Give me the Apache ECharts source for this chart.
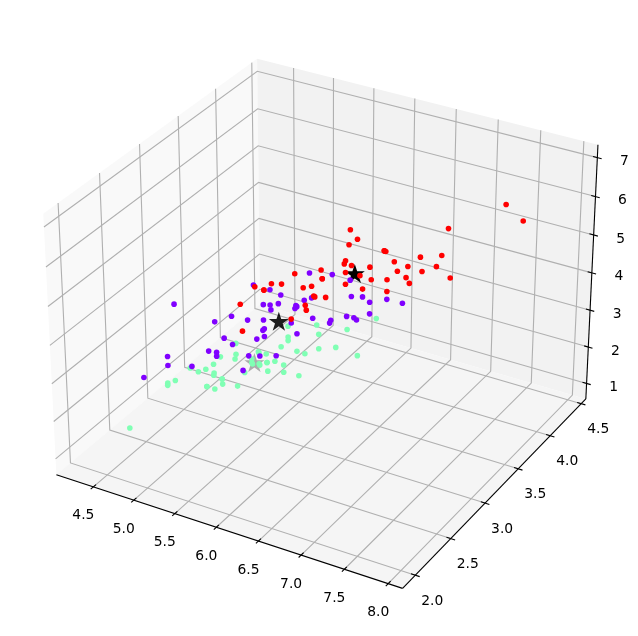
<!DOCTYPE html>
<html><head><meta charset="utf-8">
<style>html,body{margin:0;padding:0;background:#fff}#c{width:638px;height:636px}</style>
<script src="https://cdn.jsdelivr.net/npm/echarts@6/dist/echarts.min.js"></script>
</head><body><div id="c"></div>
<script>
const sepalLength=[5.1,4.9,4.7,4.6,5.0,5.4,4.6,5.0,4.4,4.9,5.4,4.8,4.8,4.3,5.8,5.7,5.4,5.1,5.7,5.1,5.4,5.1,4.6,5.1,4.8,5.0,5.0,5.2,5.2,4.7,4.8,5.4,5.2,5.5,4.9,5.0,5.5,4.9,4.4,5.1,5.0,4.5,4.4,5.0,5.1,4.8,5.1,4.6,5.3,5.0,
7.0,6.4,6.9,5.5,6.5,5.7,6.3,4.9,6.6,5.2,5.0,5.9,6.0,6.1,5.6,6.7,5.6,5.8,6.2,5.6,5.9,6.1,6.3,6.1,6.4,6.6,6.8,6.7,6.0,5.7,5.5,5.5,5.8,6.0,5.4,6.0,6.7,6.3,5.6,5.5,5.5,6.1,5.8,5.0,5.6,5.7,5.7,6.2,5.1,5.7,
6.3,5.8,7.1,6.3,6.5,7.6,4.9,7.3,6.7,7.2,6.5,6.4,6.8,5.7,5.8,6.4,6.5,7.7,7.7,6.0,6.9,5.6,7.7,6.3,6.7,7.2,6.2,6.1,6.4,7.2,7.4,7.9,6.4,6.3,6.1,7.7,6.3,6.4,6.0,6.9,6.7,6.9,5.8,6.8,6.7,6.7,6.3,6.5,6.2,5.9];
const sepalWidth=[3.5,3.0,3.2,3.1,3.6,3.9,3.4,3.4,2.9,3.1,3.7,3.4,3.0,3.0,4.0,4.4,3.9,3.5,3.8,3.8,3.4,3.7,3.6,3.3,3.4,3.0,3.4,3.5,3.4,3.2,3.1,3.4,4.1,4.2,3.1,3.2,3.5,3.6,3.0,3.4,3.5,2.3,3.2,3.5,3.8,3.0,3.8,3.2,3.7,3.3,
3.2,3.2,3.1,2.3,2.8,2.8,3.3,2.4,2.9,2.7,2.0,3.0,2.2,2.9,2.9,3.1,3.0,2.7,2.2,2.5,3.2,2.8,2.5,2.8,2.9,3.0,2.8,3.0,2.9,2.6,2.4,2.4,2.7,2.7,3.0,3.4,3.1,2.3,3.0,2.5,2.6,3.0,2.6,2.3,2.7,3.0,2.9,2.9,2.5,2.8,
3.3,2.7,3.0,2.9,3.0,3.0,2.5,2.9,2.5,3.6,3.2,2.7,3.0,2.5,2.8,3.2,3.0,3.8,2.6,2.2,3.2,2.8,2.8,2.7,3.3,3.2,2.8,3.0,2.8,3.0,2.8,3.8,2.8,2.8,2.6,3.0,3.4,3.1,3.0,3.1,3.1,3.1,2.7,3.2,3.3,3.0,2.5,3.0,3.4,3.0];
const petalLength=[1.4,1.4,1.3,1.5,1.4,1.7,1.4,1.5,1.4,1.5,1.5,1.6,1.4,1.1,1.2,1.5,1.3,1.4,1.7,1.5,1.7,1.5,1.0,1.7,1.9,1.6,1.6,1.5,1.4,1.6,1.6,1.5,1.5,1.4,1.5,1.2,1.3,1.4,1.3,1.5,1.3,1.3,1.3,1.6,1.9,1.4,1.6,1.4,1.5,1.4,
4.7,4.5,4.9,4.0,4.6,4.5,4.7,3.3,4.6,3.9,3.5,4.2,4.0,4.7,3.6,4.4,4.5,4.1,4.5,3.9,4.8,4.0,4.9,4.7,4.3,4.4,4.8,5.0,4.5,3.5,3.8,3.7,3.9,5.1,4.5,4.5,4.7,4.4,4.1,4.0,4.4,4.6,4.0,3.3,4.2,4.2,4.2,4.3,3.0,4.1,
6.0,5.1,5.9,5.6,5.8,6.6,4.5,6.3,5.8,6.1,5.1,5.3,5.5,5.0,5.1,5.3,5.5,6.7,6.9,5.0,5.7,4.9,6.7,4.9,5.7,6.0,4.8,4.9,5.6,5.8,6.1,6.4,5.6,5.1,5.6,6.1,5.6,5.5,4.8,5.4,5.6,5.1,5.1,5.9,5.7,5.2,5.0,5.2,5.4,5.1];
const cluster=[1,1,1,1,1,1,1,1,1,1,1,1,1,1,1,1,1,1,1,1,1,1,1,1,1,1,1,1,1,1,1,1,1,1,1,1,1,1,1,1,1,1,1,1,1,1,1,1,1,1,
0,0,0,0,0,0,0,0,0,0,0,0,0,0,0,0,0,0,0,0,0,0,0,0,0,0,0,0,0,0,0,0,0,0,0,0,0,0,0,0,0,0,0,0,0,0,0,0,0,0,
2,2,2,2,2,2,0,2,2,2,2,2,2,2,2,2,2,2,2,2,2,2,2,2,2,2,2,2,2,2,2,2,2,2,2,2,2,2,2,2,2,2,2,2,2,2,2,2,2,2];
const centreX=[5.916,5.006,6.622];
const centreY=[2.765,3.428,2.984];
const centreZ=[4.265,1.462,5.573];
const clusterColors=['#8000ff','#80ffb4','#ff0000'];
const xTicks=[4.5,5.0,5.5,6.0,6.5,7.0,7.5,8.0];
const yTicks=[2.0,2.5,3.0,3.5,4.0,4.5];
const zTicks=[1,2,3,4,5,6,7];

// matplotlib-style 3D camera (elev 30, azim -60)
const lim=[[4.12,8.08],[1.88,4.52],[0.705,7.195]];
const pane=lim.map(l=>{const d=(l[1]-l[0])/48;return [l[0]-d,l[1]+d];});
const W=638,H=636,K=3197,CX=326.2,CY=310.3;
const norm=v=>Math.hypot(...v);
const cross=(a,b)=>[a[1]*b[2]-a[2]*b[1],a[2]*b[0]-a[0]*b[2],a[0]*b[1]-a[1]*b[0]];
const dot=(a,b)=>a[0]*b[0]+a[1]*b[1]+a[2]*b[2];
let box=[4,4,3];const bs=1.8294640721620434*25/24/norm(box);box=box.map(v=>v*bs);
const el=30*Math.PI/180,az=-60*Math.PI/180,dist=10;
const dir=[Math.cos(el)*Math.cos(az),Math.cos(el)*Math.sin(az),Math.sin(el)];
const R=box.map(v=>v/2),E=R.map((v,i)=>v+dist*dir[i]);
let u=cross([0,0,1],dir);const un=norm(u);u=u.map(v=>v/un);const v3=cross(dir,u);
function proj(x,y,z){
  const p=[(x-lim[0][0])/(lim[0][1]-lim[0][0])*box[0],(y-lim[1][0])/(lim[1][1]-lim[1][0])*box[1],(z-lim[2][0])/(lim[2][1]-lim[2][0])*box[2]];
  const d=p.map((v,i)=>v-E[i]);const w=-dot(dir,d);
  return {x:dot(u,d)/w,y:dot(v3,d)/w,depth:w};
}
const P=(x,y,z)=>{const p=proj(x,y,z);return [p.x,p.y];};
const [x0,x1]=pane[0],[y0,y1]=pane[1],[z0,z1]=pane[2];

const panes=[
 {pts:[P(x0,y0,z0),P(x0,y1,z0),P(x0,y1,z1),P(x0,y0,z1)],c:'#f9f9f9'},
 {pts:[P(x0,y1,z0),P(x1,y1,z0),P(x1,y1,z1),P(x0,y1,z1)],c:'#f2f2f2'},
 {pts:[P(x0,y0,z0),P(x1,y0,z0),P(x1,y1,z0),P(x0,y1,z0)],c:'#f5f5f5'}];
const gridLines=[];
xTicks.forEach(t=>gridLines.push([P(t,y0,z0),P(t,y1,z0),P(t,y1,z1)]));
yTicks.forEach(t=>gridLines.push([P(x1,t,z0),P(x0,t,z0),P(x0,t,z1)]));
zTicks.forEach(t=>gridLines.push([P(x0,y0,t),P(x0,y1,t),P(x1,y1,t)]));
const axisLines=[[P(x0,y0,z0),P(x1,y0,z0)],[P(x1,y0,z0),P(x1,y1,z0)],[P(x1,y1,z0),P(x1,y1,z1)]];
const dx=(lim[0][1]-lim[0][0])/12,dy=(lim[1][1]-lim[1][0])/12;
const TI=0.15,TO=0.15;
xTicks.forEach(t=>axisLines.push([P(t,y0-dy*TO,z0),P(t,y0+dy*TI,z0)]));
yTicks.forEach(t=>axisLines.push([P(x1+dx*TO,t,z0),P(x1-dx*TI,t,z0)]));
zTicks.forEach(t=>axisLines.push([P(x1+dx*TO,y1,t),P(x1-dx*TI,y1,t)]));
const labels=[];
const lab=(p,ox,oy,s)=>labels.push([p[0]+ox/K,p[1]-oy/K,s]);
xTicks.forEach(t=>lab(P(t,y0,z0),-10,29,t.toFixed(1)));
yTicks.forEach(t=>lab(P(x1,t,z0),17,26,t.toFixed(1)));
zTicks.forEach(t=>lab(P(x1,y1,t),27,4,String(t)));

const points=sepalLength.map((x,i)=>{const p=proj(x,sepalWidth[i],petalLength[i]);return {value:[p.x,p.y],d:p.depth,itemStyle:{color:clusterColors[cluster[i]],opacity:1}};}).sort((a,b)=>b.d-a.d);
const cp=centreX.map((x,i)=>proj(x,centreY[i],centreZ[i]));
const dmin=Math.min(...cp.map(p=>p.depth)),dmax=Math.max(...cp.map(p=>p.depth));
const stars=cp.map(p=>({d:p.depth,value:[p.x,p.y],itemStyle:{color:'#000',opacity:1-(p.depth-dmin)/(dmax-dmin)*0.7}})).sort((a,b)=>b.d-a.d);
let sp='';for(let i=0;i<10;i++){const r=i%2?0.381966:1,a=-Math.PI/2+i*Math.PI/5;sp+=(i?'L':'M')+(r*Math.cos(a)).toFixed(4)+' '+(r*Math.sin(a)).toFixed(4);}sp+='Z';

const lineSeries=(data,color,width)=>({type:'custom',coordinateSystem:'cartesian2d',silent:true,clip:false,
  data:data.map((l,i)=>[l[0][0],l[0][1],i]),
  renderItem:(params,api)=>{const l=data[api.value(2)];return {type:'polyline',shape:{points:l.map(p=>api.coord(p))},style:{stroke:color,lineWidth:width,fill:null}};}});

const chart=echarts.init(document.getElementById('c'),null,{renderer:'canvas',width:W,height:H});
chart.setOption({animation:false,backgroundColor:'#fff',
 grid:{left:0,right:0,top:0,bottom:0},
 xAxis:{type:'value',show:false,min:(0-CX)/K,max:(W-CX)/K,scale:true},
 yAxis:{type:'value',show:false,min:-(H-CY)/K,max:CY/K,scale:true},
 series:[
  {type:'custom',silent:true,clip:false,data:panes.map((p,i)=>[p.pts[0][0],p.pts[0][1],i]),
   renderItem:(params,api)=>{const p=panes[api.value(2)];return {type:'polygon',shape:{points:p.pts.map(q=>api.coord(q))},style:{fill:p.c,stroke:null}};}},
  lineSeries(gridLines,'#b0b0b0',1.11),
  lineSeries(axisLines,'#000',1.11),
  {type:'custom',silent:true,clip:false,data:labels.map((l,i)=>[l[0],l[1],i]),
   renderItem:(params,api)=>{const l=labels[api.value(2)],c=api.coord([l[0],l[1]]);return {type:'text',x:c[0],y:c[1],style:{text:l[2],fill:'#000',font:'13.89px "DejaVu Sans"',align:'center',verticalAlign:'middle'}};}},
  {type:'scatter',silent:true,symbol:'path://'+sp,symbolSize:[20,19],data:stars},
  {type:'scatter',silent:true,symbol:'circle',symbolSize:5.6,data:points}
 ]});
</script></body></html>
